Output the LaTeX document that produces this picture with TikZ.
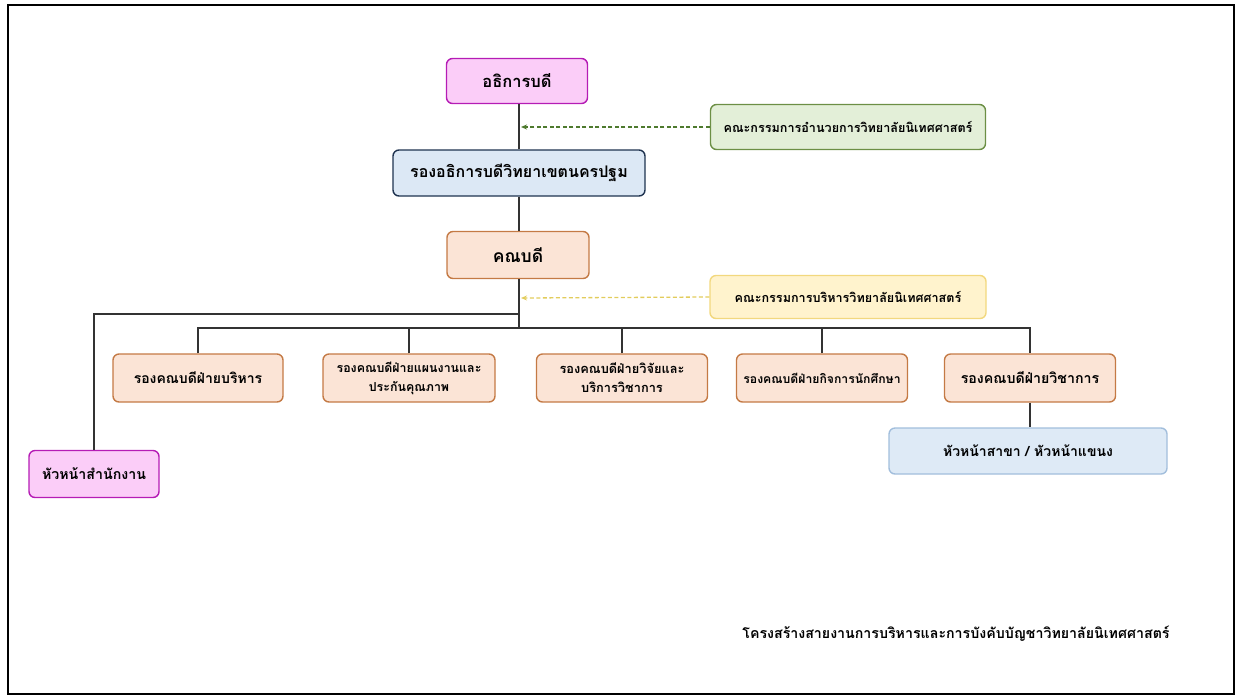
\documentclass[tikz,border=0pt]{standalone}
\usepackage{fontspec}
\newfontfamily\thaifont[Script=Thai]{Loma}
\usetikzlibrary{arrows.meta}
\definecolor{magfill}{HTML}{FBCDF8}
\definecolor{magdraw}{HTML}{B51CB5}
\definecolor{bluefill}{HTML}{DCE8F5}
\definecolor{bluedraw}{HTML}{1F3350}
\definecolor{orfill}{HTML}{FBE4D6}
\definecolor{ordraw}{HTML}{C47A45}
\definecolor{grfill}{HTML}{E3EFD8}
\definecolor{grdraw}{HTML}{6C8F45}
\definecolor{grline}{HTML}{4E7A2E}
\definecolor{yefill}{HTML}{FFF3CD}
\definecolor{yedraw}{HTML}{F2D87E}
\definecolor{yeline}{HTML}{E2CC5C}
\definecolor{lbfill}{HTML}{DEEAF6}
\definecolor{lbdraw}{HTML}{A2BEDC}
\definecolor{linec}{HTML}{333333}
\tikzset{
  box/.style={rounded corners=6pt, line width=1.4pt, align=center, inner sep=0pt, font=\thaifont\bfseries},
  magbox/.style={box, fill=magfill, draw=magdraw},
  bluebox/.style={box, fill=bluefill, draw=bluedraw},
  orbox/.style={box, fill=orfill, draw=ordraw},
  grbox/.style={box, fill=grfill, draw=grdraw},
  yebox/.style={box, fill=yefill, draw=yedraw},
  lbbox/.style={box, fill=lbfill, draw=lbdraw},
  conn/.style={draw=linec, line width=1.8pt},
  dasharrow/.style={dash pattern=on 4pt off 2.5pt, line width=1.3pt, -{Stealth[length=6pt,width=5pt,open]}},
}
\begin{document}
\begin{tikzpicture}[x=1pt,y=-1pt]
\useasboundingbox (0,0) rectangle (1241,697);
\draw[line width=2pt, black] (8,5) rectangle (1234,694);

\node[magbox, minimum width=141pt, minimum height=45pt, font=\thaifont\bfseries\fontsize{16.5}{18}\selectfont] (pres) at (517,81) {อธิการบดี};
\node[grbox, minimum width=275pt, minimum height=45pt, font=\thaifont\bfseries\fontsize{12.6}{14}\selectfont] (gcom) at (848,127) {คณะกรรมการอำนวยการวิทยาลัยนิเทศศาสตร์};
\node[bluebox, minimum width=252pt, minimum height=46pt, font=\thaifont\bfseries\fontsize{16}{18}\selectfont] (vp) at (519,173) {รองอธิการบดีวิทยาเขตนครปฐม};
\node[orbox, minimum width=142pt, minimum height=47pt, font=\thaifont\bfseries\fontsize{17.5}{19}\selectfont] (dean) at (518,255) {คณบดี};
\node[yebox, minimum width=276pt, minimum height=43pt, font=\thaifont\bfseries\fontsize{12.6}{14}\selectfont] (ycom) at (848,297) {คณะกรรมการบริหารวิทยาลัยนิเทศศาสตร์};

\node[orbox, minimum width=170pt, minimum height=48pt, font=\thaifont\bfseries\fontsize{14}{16}\selectfont] (b1) at (198,378) {รองคณบดีฝ่ายบริหาร};
\node[orbox, minimum width=172pt, minimum height=48pt, font=\thaifont\bfseries\fontsize{12.4}{19}\selectfont] (b2) at (409,378) {รองคณบดีฝ่ายแผนงานและ\\ประกันคุณภาพ};
\node[orbox, minimum width=171pt, minimum height=48pt, font=\thaifont\bfseries\fontsize{12.8}{19}\selectfont] (b3) at (622,378) {รองคณบดีฝ่ายวิจัยและ\\บริการวิชาการ};
\node[orbox, minimum width=171pt, minimum height=48pt, font=\thaifont\bfseries\fontsize{12.2}{14}\selectfont] (b4) at (822,378) {รองคณบดีฝ่ายกิจการนักศึกษา};
\node[orbox, minimum width=171pt, minimum height=48pt, font=\thaifont\bfseries\fontsize{14.2}{16}\selectfont] (b5) at (1030,378) {รองคณบดีฝ่ายวิชาการ};

\node[lbbox, minimum width=278pt, minimum height=46pt, font=\thaifont\bfseries\fontsize{14}{16}\selectfont] (head) at (1028,451) {หัวหน้าสาขา / หัวหน้าแขนง};
\node[magbox, minimum width=130pt, minimum height=47pt, font=\thaifont\bfseries\fontsize{14.2}{16}\selectfont] (office) at (94,474) {หัวหน้าสำนักงาน};

\node[font=\thaifont\bfseries\fontsize{14.2}{16}\selectfont, inner sep=0pt] (title) at (956,634) {โครงสร้างสายงานการบริหารและการบังคับบัญชาวิทยาลัยนิเทศศาสตร์};

\coordinate (j1) at (521,127);
\coordinate (j2) at (521,298);
\coordinate (lb) at (519,314);
\coordinate (bar) at (519,328);

\draw[conn] (vp.north) -- (vp.north |- pres.south);
\draw[conn] (vp.south) -- (vp.south |- dean.north);
\draw[conn] (bar |- dean.south) -- (bar);
\draw[conn] (lb) -| (office.north);
\draw[conn] (b1.north) -- (b1.north |- bar) -- (b5.north |- bar) -- (b5.north);
\draw[conn] (b2.north) -- (b2.north |- bar);
\draw[conn] (b3.north) -- (b3.north |- bar);
\draw[conn] (b4.north) -- (b4.north |- bar);
\draw[conn] (b5.south) -- (b5.south |- head.north);

\draw[dasharrow, draw=grline] (gcom.west) -- (j1);
\draw[dasharrow, draw=yeline] (ycom.west) -- (j2);
\end{tikzpicture}
\end{document}
